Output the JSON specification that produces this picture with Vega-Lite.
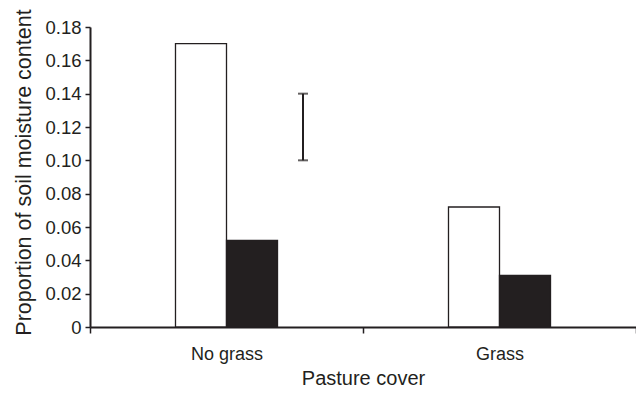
{
  "$schema": "https://vega.github.io/schema/vega-lite/v6.json",
  "width": 546,
  "height": 300,
  "autosize": "none",
  "padding": {"left": 90, "top": 27, "right": 0, "bottom": 71},
  "background": "white",
  "config": {
    "view": {"stroke": null},
    "font": "Liberation Sans",
    "axis": {"labelFont": "Liberation Sans", "titleFont": "Liberation Sans", "labelColor": "#231f20", "titleColor": "#231f20", "titleFontWeight": "normal", "domainColor": "#231f20", "tickColor": "#231f20", "domainWidth": 2, "tickWidth": 1.5, "grid": false, "labelOverlap": false}
  },
  "datasets": {
    "bars": [
      {"cover": "No grass", "group": "open", "moisture": 0.17},
      {"cover": "No grass", "group": "filled", "moisture": 0.052},
      {"cover": "Grass", "group": "open", "moisture": 0.072},
      {"cover": "Grass", "group": "filled", "moisture": 0.031}
    ],
    "lsd": [
      {"cover": "No grass", "group": "lsd", "lo": 0.10, "hi": 0.14}
    ]
  },
  "encoding": {
    "x": {
      "field": "cover", "type": "nominal",
      "sort": ["No grass", "Grass"],
      "scale": {"domain": ["No grass", "Grass"], "paddingInner": 0, "paddingOuter": 0},
      "axis": {"title": "Pasture cover", "labelAngle": 0, "labelFontSize": 18, "titleFontSize": 20, "tickBand": "extent", "tickSize": 6, "labelPadding": 12, "titlePadding": 5}
    },
    "xOffset": {
      "field": "group", "type": "nominal",
      "scale": {"domain": ["pad", "open", "filled", "lsd"], "paddingInner": 0, "paddingOuter": 0.676}
    }
  },
  "layer": [
    {
      "data": {"name": "bars"},
      "mark": {"type": "bar", "strokeWidth": 1.3, "stroke": "#231f20"},
      "encoding": {
        "y": {
          "field": "moisture", "type": "quantitative",
          "scale": {"domain": [0, 0.18], "nice": false},
          "axis": {"title": "Proportion of soil moisture content", "values": [0, 0.02, 0.04, 0.06, 0.08, 0.1, 0.12, 0.14, 0.16, 0.18], "labelExpr": "datum.value == 0 ? '0' : format(datum.value, '.2f')", "labelFontSize": 18.5, "titleFontSize": 21.5, "tickSize": 5, "labelPadding": 4, "titlePadding": 9, "titleY": 145}
        },
        "fill": {
          "field": "group", "type": "nominal",
          "scale": {"domain": ["open", "filled"], "range": ["#ffffff", "#231f20"]},
          "legend": null
        }
      }
    },
    {
      "data": {"name": "lsd"},
      "mark": {"type": "rule", "color": "#231f20", "strokeWidth": 2},
      "encoding": {
        "y": {"field": "lo", "type": "quantitative", "axis": {"title": "Proportion of soil moisture content", "values": [0, 0.02, 0.04, 0.06, 0.08, 0.1, 0.12, 0.14, 0.16, 0.18], "labelExpr": "datum.value == 0 ? '0' : format(datum.value, '.2f')", "labelFontSize": 18.5, "titleFontSize": 21.5, "tickSize": 5, "labelPadding": 4, "titlePadding": 9, "titleY": 145}},
        "y2": {"field": "hi"}
      }
    },
    {
      "data": {"name": "lsd"},
      "mark": {"type": "tick", "color": "#231f20", "size": 10, "thickness": 2, "orient": "horizontal"},
      "encoding": {"y": {"field": "lo", "type": "quantitative", "axis": {"title": "Proportion of soil moisture content", "values": [0, 0.02, 0.04, 0.06, 0.08, 0.1, 0.12, 0.14, 0.16, 0.18], "labelExpr": "datum.value == 0 ? '0' : format(datum.value, '.2f')", "labelFontSize": 18.5, "titleFontSize": 21.5, "tickSize": 5, "labelPadding": 4, "titlePadding": 9, "titleY": 145}}}
    },
    {
      "data": {"name": "lsd"},
      "mark": {"type": "tick", "color": "#231f20", "size": 10, "thickness": 2, "orient": "horizontal"},
      "encoding": {"y": {"field": "hi", "type": "quantitative", "axis": {"title": "Proportion of soil moisture content", "values": [0, 0.02, 0.04, 0.06, 0.08, 0.1, 0.12, 0.14, 0.16, 0.18], "labelExpr": "datum.value == 0 ? '0' : format(datum.value, '.2f')", "labelFontSize": 18.5, "titleFontSize": 21.5, "tickSize": 5, "labelPadding": 4, "titlePadding": 9, "titleY": 145}}}
    }
  ]
}
